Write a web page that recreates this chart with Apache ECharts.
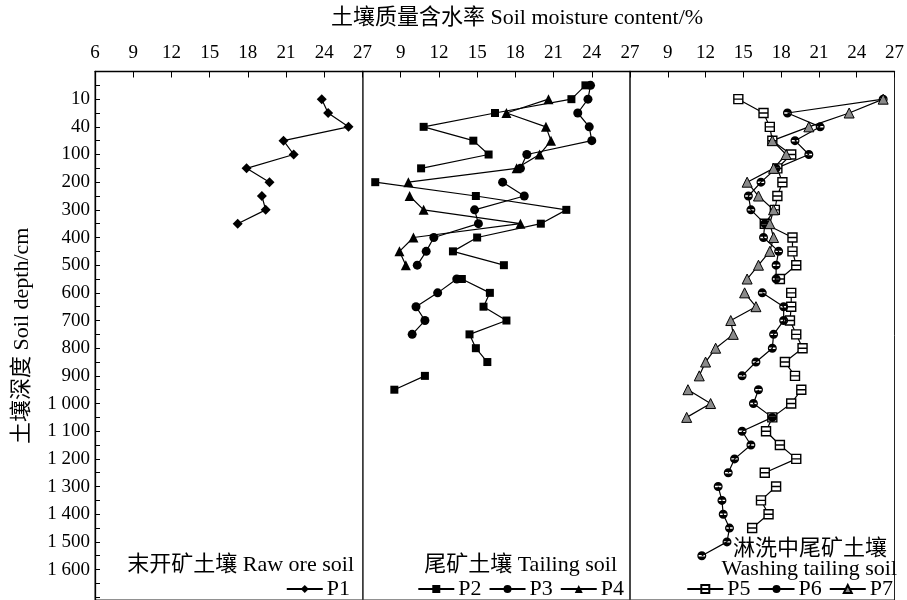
<!DOCTYPE html>
<html>
<head>
<meta charset="utf-8">
<script src="https://cdn.jsdelivr.net/npm/echarts@6/dist/echarts.min.js"></script>
<style>
  html, body { margin: 0; padding: 0; background: #fff; }
  #chart { width: 907px; height: 600px; }
</style>
</head>
<body>
<div id="chart"></div>
<script>
// Depth labels, one per labelled row (rows 0, 2, 4, ... on the depth axis)
const depthLabels = ['10', '40', '100', '200', '300', '400', '500', '600', '700', '800',
  '900', '1 000', '1 100', '1 200', '1 300', '1 400', '1 500', '1 600'];

// Moisture ticks (%)
const moistureTicks = [6, 9, 12, 15, 18, 21, 24, 27];

// Each profile: first depth row, moisture values (%) row by row, rows where the line restarts
const p1Start = 0;
const p1 = [23.8, 24.3, 25.9, 20.8, 21.6, 17.9, 19.7, 19.1, 19.4, 17.2];
const p1Breaks = [7];

const p2Start = -1;
const p2 = [23.5, 22.4, 16.4, 10.8, 14.7, 15.9, 10.6, 7.0, 14.9, 22.0, 20.0, 15.0, 13.1, 17.1,
  13.8, 16.0, 15.5, 17.3, 14.4, 14.9, 15.8, 10.9, 8.5];
const p2Breaks = [6, 13, 20];

const p3Start = -1;
const p3 = [23.9, 23.7, 22.9, 23.8, 24.0, 18.9, 18.4, 17.0, 18.7, 14.8, 15.1, 11.6, 11.0, 10.3,
  13.4, 11.9, 10.2, 10.9, 9.9];
const p3Breaks = [6, 13];

const p4Start = 0;
const p4 = [20.6, 17.3, 20.4, 20.8, 19.9, 18.1, 9.6, 9.7, 10.8, 18.4, 10.0, 8.9, 9.4];
const p4Breaks = [7];

const p5Start = 0;
const p5 = [14.6, 16.6, 17.1, 17.3, 18.8, 17.7, 18.1, 17.7, 17.5, 16.7, 18.9, 18.9, 19.2, 17.9,
  18.8, 18.8, 18.7, 19.2, 19.7, 18.3, 19.1, 19.6, 18.8, 17.3, 16.8, 17.9, 19.2, 16.7,
  17.6, 16.4, 17.0, 15.7];
const p5Breaks = [14, 21, 28];

const p6Start = 0;
const p6 = [26.1, 18.5, 21.1, 19.1, 20.2, 17.6, 16.4, 15.4, 15.6, 16.7, 16.6, 17.8, 17.6, 17.6,
  16.5, 18.2, 18.2, 17.4, 17.3, 16.0, 14.9, 16.2, 15.8, 17.3, 14.9, 15.6, 14.3, 13.8,
  13.0, 13.3, 13.4, 13.9, 13.7, 11.7];
const p6Breaks = [14, 21, 28];

const p7Start = 0;
const p7 = [26.1, 23.4, 20.2, 17.3, 18.4, 17.4, 15.3, 16.2, 17.4, 17.1, 17.4, 17.1, 16.2, 15.3,
  15.1, 16.0, 14.0, 14.2, 12.8, 12.0, 11.5, 10.6, 12.4, 10.5];
const p7Breaks = [14, 21];

const panelTitles = ['末开矿土壤 Raw ore soil', '尾矿土壤 Tailing soil', '淋洗中尾矿土壤', 'Washing tailing soil'];

const FONT = "'Liberation Serif', 'Times New Roman', 'Noto Sans CJK SC', serif";

function toPoints(start, values, breaks) {
  const out = [];
  values.forEach((v, i) => {
    const row = start + i;
    if (breaks.indexOf(row) !== -1) out.push(['-', '-']);
    out.push([v, row]);
  });
  return out;
}

const gridTop = 71.5;
const rowPx = 13.9;
const yMin = -2, yMax = 36.2;
const gridH = (yMax - yMin) * rowPx;
const panelLeft = [95, 362.5, 630];
const panelW = 267.5;

const grids = panelLeft.map(l => ({
  left: l, top: gridTop, width: panelW, height: gridH,
  show: true, borderColor: '#222', borderWidth: 1, backgroundColor: 'transparent'
}));

const xAxes = [0, 1, 2].map(i => ({
  gridIndex: i, type: 'value', position: 'top',
  min: moistureTicks[0], max: moistureTicks[moistureTicks.length - 1], interval: 3,
  axisLine: { show: true, onZero: false, lineStyle: { color: '#000', width: 1.3 } },
  axisTick: { show: true, inside: true, length: 6, lineStyle: { color: '#000', width: 1 } },
  axisLabel: { fontSize: 19, color: '#000', fontFamily: FONT, margin: 9, showMinLabel: i === 0 },
  splitLine: { show: false }
}));

const yAxes = [0, 1, 2].map(i => ({
  gridIndex: i, type: 'value', inverse: true, min: yMin, max: yMax, interval: 2,
  axisLine: { show: true, onZero: false, lineStyle: { color: i === 0 ? '#000' : '#444', width: i === 0 ? 1.3 : 1.6 } },
  axisTick: { show: i === 0, inside: true, length: 5, lineStyle: { color: '#000', width: 1 } },
  minorTick: { show: i === 0, splitNumber: 2, length: 5, lineStyle: { color: '#000', width: 1 } },
  axisLabel: {
    show: i === 0, fontSize: 19, color: '#000', fontFamily: FONT, margin: 5,
    formatter: v => (v >= 0 && v <= 34 && v % 2 === 0) ? depthLabels[v / 2] : ''
  },
  splitLine: { show: false },
  name: i === 0 ? '土壤深度 Soil depth/cm' : '',
  nameLocation: 'middle', nameRotate: 90, nameGap: 62,
  nameTextStyle: { fontSize: 22, color: '#000', fontFamily: FONT }
}));

const P5_SYMBOL = 'path://M0,0L10,0L10,10L0,10Z M0,5L10,5';
const P6_SYMBOL = 'path://M5,0A5,5,0,1,1,5,10A5,5,0,1,1,5,0Z M1.5,4.2L1.5,5.8L8.5,5.8L8.5,4.2Z';

function lineSeries(name, axis, data, symbol, size, itemStyle) {
  return {
    name, type: 'line', xAxisIndex: axis, yAxisIndex: axis, data,
    symbol, symbolSize: size, showAllSymbol: true, connectNulls: false,
    lineStyle: { color: '#000', width: 1.2 },
    itemStyle: Object.assign({ color: '#000' }, itemStyle || {}),
    emphasis: { disabled: true }, silent: true, z: 3
  };
}

const series = [
  lineSeries('P1', 0, toPoints(p1Start, p1, p1Breaks), 'diamond', 10),
  lineSeries('P2', 1, toPoints(p2Start, p2, p2Breaks), 'rect', 8),
  lineSeries('P3', 1, toPoints(p3Start, p3, p3Breaks), 'circle', 9),
  lineSeries('P4', 1, toPoints(p4Start, p4, p4Breaks), 'triangle', 10),
  lineSeries('P5', 2, toPoints(p5Start, p5, p5Breaks), P5_SYMBOL, 9,
    { color: '#fff', borderColor: '#000', borderWidth: 1.4 }),
  lineSeries('P6', 2, toPoints(p6Start, p6, p6Breaks), P6_SYMBOL, 9),
  lineSeries('P7', 2, toPoints(p7Start, p7, p7Breaks), 'triangle', 10,
    { color: '#8a8a8a', borderColor: '#000', borderWidth: 1 })
];

const legendBase = {
  orient: 'horizontal', top: 578, padding: 0, itemGap: 7,
  itemWidth: 36, itemHeight: 10,
  textStyle: { fontSize: 22, color: '#000', fontFamily: FONT, padding: [0, 0, 0, -1] },
  selectedMode: false
};

const legends = [
  Object.assign({}, legendBase, { data: ['P1'], right: 557 }),
  Object.assign({}, legendBase, { data: ['P2', 'P3', 'P4'], right: 283 }),
  Object.assign({}, legendBase, { data: ['P5', 'P6', 'P7'], right: 14 })
];

function label(text, x, y, size) {
  return {
    type: 'text', x, y, silent: true,
    style: { text, fill: '#000', font: size + 'px ' + FONT, textAlign: 'right', textVerticalAlign: 'middle' }
  };
}

const chart = echarts.init(document.getElementById('chart'), null, { renderer: 'canvas' });
chart.setOption({
  animation: false,
  backgroundColor: '#fff',
  grid: grids,
  xAxis: xAxes,
  yAxis: yAxes,
  legend: legends,
  series,
  graphic: [
    {
      type: 'text', x: 517, y: 18, silent: true,
      style: { text: '土壤质量含水率 Soil moisture content/%', fill: '#000',
        font: '22px ' + FONT, textAlign: 'center', textVerticalAlign: 'middle' }
    },
    label(panelTitles[0], 354, 565, 22),
    label(panelTitles[1], 617, 565, 22),
    label(panelTitles[2], 887, 549, 22),
    label(panelTitles[3], 897, 569, 22)
  ]
});
</script>
</body>
</html>
